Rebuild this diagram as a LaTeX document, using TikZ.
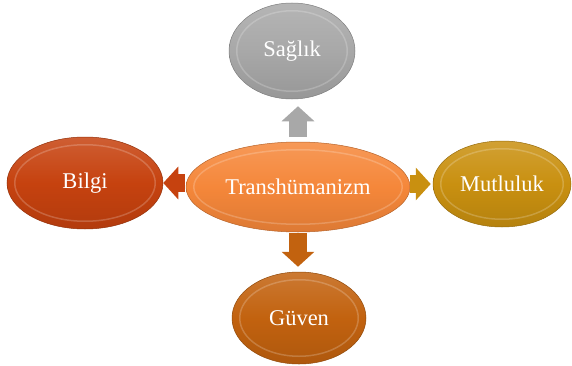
\documentclass[tikz,border=0pt]{standalone}
\usepackage{fontspec}
\setmainfont{Liberation Serif}
\usetikzlibrary{arrows.meta,shapes.geometric,calc}

\definecolor{saglikC}{HTML}{A8A8A8}
\definecolor{bilgiC}{HTML}{C6420F}
\definecolor{coreC}{HTML}{F5873A}
\definecolor{mutluC}{HTML}{C99010}
\definecolor{guvenC}{HTML}{C2620F}

\begin{document}
\begin{tikzpicture}[x=1pt,y=1pt,
    blob/.style={ellipse,inner sep=0pt,draw=#1!75!black,line width=0.5pt,
        top color=#1!85!white,bottom color=#1!90!black,middle color=#1,
        text=white,font=\fontsize{22.5}{27}\selectfont},
    link/.style={draw=#1,line width=18pt,-{Triangle[length=15pt,width=32pt]}}]
\useasboundingbox (0,0) rectangle (572,365);

% === Nodes ===
\node[blob=coreC,minimum width=224,minimum height=90] (core) at (298,178) {Transhümanizm};
\node[blob=saglikC,minimum width=126,minimum height=96] (saglik) at (292,314) {Sağlık};
\node[blob=bilgiC,minimum width=156,minimum height=92] (bilgi) at (85,182) {Bilgi};
\node[blob=mutluC,minimum width=138,minimum height=86] (mutlu) at (502,181) {Mutluluk};
\node[blob=guvenC,minimum width=134,minimum height=92] (guven) at (299,47) {Güven};

% inner bevel rim
\foreach \nd in {core,saglik,bilgi,mutlu,guven}
    \draw[white,opacity=0.2,line width=1.5pt]
        let \p1=($(\nd.east)-(\nd.center)$), \p2=($(\nd.north)-(\nd.center)$) in
        (\nd.center) ellipse [x radius=\x1-8pt, y radius=\y2-8pt];

% === Arrows ===
\draw[link=saglikC,shorten <=5pt,shorten >=7pt] (core.north) -- (core.north |- saglik.south);
\draw[link=bilgiC,shorten <=1pt] (core.west |- bilgi.east) -- (bilgi.east);
\draw[link=mutluC,shorten >=2pt] (core.east |- mutlu.west) -- (mutlu.west);
\draw[link=guvenC,shorten <=1pt,shorten >=5pt] (core.south) -- (core.south |- guven.north);
\end{tikzpicture}
\end{document}
